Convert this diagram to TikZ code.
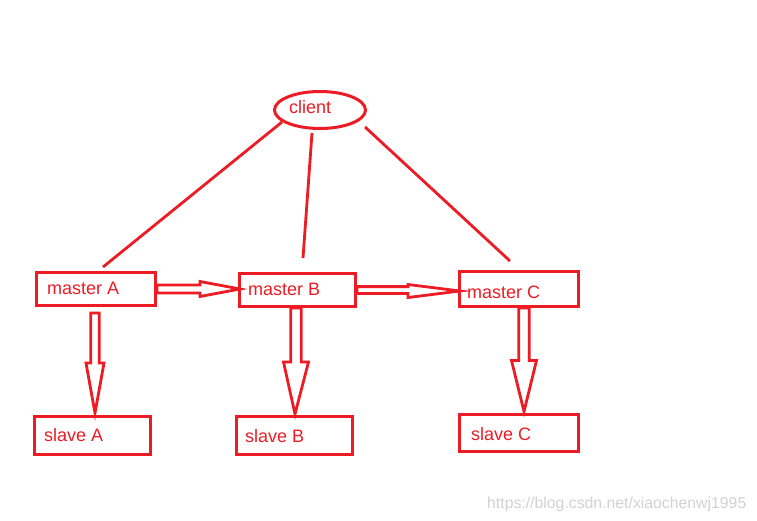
\documentclass[tikz,border=0pt]{standalone}
\usepackage{fontspec}
\setmainfont{Liberation Sans}
\usetikzlibrary{calc,shapes.geometric}
\definecolor{pred}{HTML}{ED1C24}
\definecolor{wm}{HTML}{D2D2D2}
\tikzset{
  box/.style={draw=pred,line width=3pt,rectangle,inner sep=0pt},
  cli/.style={draw=pred,line width=3pt,ellipse,inner sep=0pt,minimum width=91pt,minimum height=37pt},
  lbl/.style={anchor=base west,inner sep=0pt,text=pred,font=\fontsize{18}{21}\selectfont},
  link/.style={draw=pred,line width=2.8pt},
  conn/.style={draw=pred,line width=2.8pt,line join=miter},
}
% horizontal hollow arrow: start, tip, shaft half, head length, head half
\newcommand\hArrow[5]{%
  \path[conn] let \p1=(#1), \p2=(#2) in
    (\x1,\y1+#3pt) -- (\x2-#4pt,\y1+#3pt) -- (\x2-#4pt,\y2+#5pt) -- (\x2,\y2)
    -- (\x2-#4pt,\y2-#5pt) -- (\x2-#4pt,\y1-#3pt) -- (\x1,\y1-#3pt) -- cycle;}
% vertical (downward) hollow arrow
\newcommand\vArrow[5]{%
  \path[conn] let \p1=(#1), \p2=(#2) in
    (\x1-#3pt,\y1) -- (\x1-#3pt,\y2+#4pt) -- (\x1-#5pt,\y2+#4pt) -- (\x2,\y2)
    -- (\x1+#5pt,\y2+#4pt) -- (\x1+#3pt,\y2+#4pt) -- (\x1+#3pt,\y1) -- cycle;}
\begin{document}
\begin{tikzpicture}[x=1pt,y=-1pt]
\useasboundingbox[fill=white] (0,0) rectangle (757,520);
% client
\node[cli] (client) at (320,110) {};
\node[lbl] (tclient) at (289,113) {client};
% masters
\node[box,minimum width=119pt,minimum height=33pt] (mA) at (96,289) {};
\node[box,minimum width=116pt,minimum height=33pt] (mB) at (297.5,290) {};
\node[box,minimum width=119pt,minimum height=35pt] (mC) at (519,289) {};
\node[lbl] (tmA) at (47,294) {master A};
\node[lbl] (tmB) at (248,295) {master B};
\node[lbl] (tmC) at (467,298) {master C};
% slaves
\node[box,minimum width=116pt,minimum height=38pt] (sA) at (92.5,435.5) {};
\node[box,minimum width=116pt,minimum height=38pt] (sB) at (294.5,435.5) {};
\node[box,minimum width=119pt,minimum height=37pt] (sC) at (519,433) {};
\node[lbl] (tsA) at (44,441) {slave A};
\node[lbl] (tsB) at (245,442) {slave B};
\node[lbl] (tsC) at (471,440) {slave C};
% client links
\coordinate (c1) at (282,122); \coordinate (a1) at (103,267);
\coordinate (c2) at (312,133); \coordinate (b1) at (303,258);
\coordinate (c3) at (365,127); \coordinate (d1) at (510,261);
\draw[link] (c1) -- (a1);
\draw[link] (c2) -- (b1);
\draw[link] (c3) -- (d1);
% hollow arrows
\coordinate (ab0) at (157,289); \coordinate (ab1) at (240,289);
\coordinate (bc0) at (357,290); \coordinate (bc1) at (460,291);
\hArrow{ab0}{ab1}{4}{40}{7.5}
\hArrow{bc0}{bc1}{3.4}{52}{6.5}
\coordinate (as0) at (95,313); \coordinate (as1) at (95,413);
\coordinate (bs0) at (296,308); \coordinate (bs1) at (295,414);
\coordinate (cs0) at (524,308); \coordinate (cs1) at (524,411.5);
\vArrow{as0}{as1}{4.3}{50}{9}
\vArrow{bs0}{bs1}{5.2}{52}{12.5}
\vArrow{cs0}{cs1}{5.2}{51}{12.5}
% watermark
\node[anchor=base west,inner sep=0pt,text=wm,font=\fontsize{15.8}{18}\selectfont] (wmk) at (487,508) {https://blog.csdn.net/xiaochenwj1995};
\end{tikzpicture}
\end{document}
